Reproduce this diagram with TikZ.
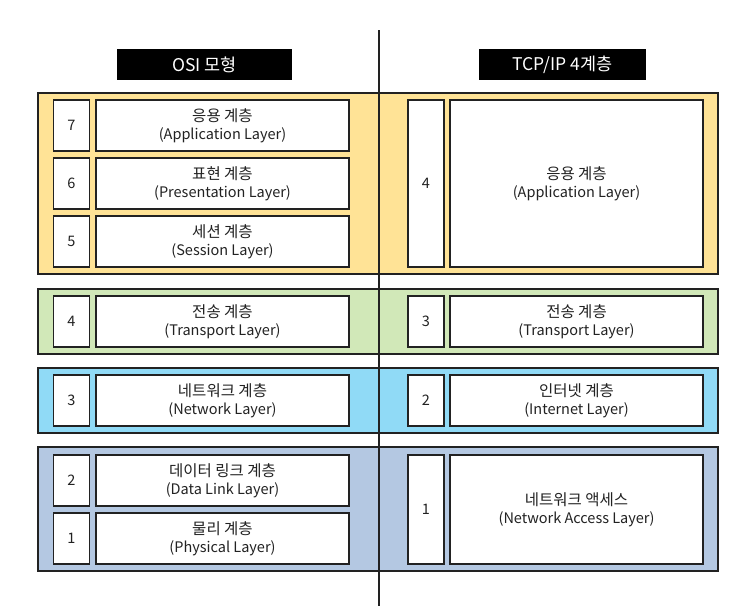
\documentclass[tikz,border=0pt]{standalone}
\usepackage{fontspec}
\setmainfont{Noto Sans CJK KR}
\definecolor{yel}{HTML}{FFE396}
\definecolor{grn}{HTML}{D1E8B8}
\definecolor{blu}{HTML}{90DAF6}
\definecolor{gbl}{HTML}{B4C8E2}
\definecolor{ink}{HTML}{222222}
\newcommand{\krl}[1]{{\fontsize{15.5}{18}\selectfont #1}}
\begin{document}
\begin{tikzpicture}[x=1pt,y=-1pt,
  band/.style={draw=ink, line width=1.5pt, inner sep=0pt, minimum width=680pt},
  cell/.style={draw=ink, line width=1.6pt, fill=white, text=ink, align=center,
    font=\fontsize{14.5}{18}\selectfont, inner sep=0pt},
  numcell/.style={cell, minimum width=36pt},
  lblcell/.style={cell, minimum width=253pt},
  hdr/.style={fill=black, text=white, font=\fontsize{17.5}{18}\selectfont, inner sep=0pt, minimum height=31pt}]
\useasboundingbox (0,0) rectangle (754,611);
% headers
\node[hdr, minimum width=175pt] (hosi) at (204.5,64.5) {OSI 모형};
\node[hdr, minimum width=167pt] (htcp) at (562.5,64.5) {TCP/IP 4계층};
% bands
\node[band, fill=yel, minimum height=181pt] (b1) at (378,183.5) {};
\node[band, fill=grn, minimum height=65pt] (b2) at (378,321.5) {};
\node[band, fill=blu, minimum height=65pt] (b3) at (378,400.5) {};
\node[band, fill=gbl, minimum height=124pt] (b4) at (378,509) {};
% divider
\coordinate (vtop) at (379,30);
\coordinate (vbot) at (379,606);
\draw[ink, line width=1.6pt] (vtop) -- (vbot);
% OSI
\node[numcell, minimum height=51pt] (n7) at (71.5,125.5) {7};
\node[lblcell, minimum height=51pt] (l7) at (222.5,125.5) {\krl{응용 계층}\\(Application Layer)};
\node[numcell, minimum height=51pt] (n6) at (71.5,183.5) {6};
\node[lblcell, minimum height=51pt] (l6) at (222.5,183.5) {\krl{표현 계층}\\(Presentation Layer)};
\node[numcell, minimum height=51pt] (n5) at (71.5,241.5) {5};
\node[lblcell, minimum height=51pt] (l5) at (222.5,241.5) {\krl{세션 계층}\\(Session Layer)};
\node[numcell, minimum height=51pt] (n4) at (71.5,321.5) {4};
\node[lblcell, minimum height=51pt] (l4) at (222.5,321.5) {\krl{전송 계층}\\(Transport Layer)};
\node[numcell, minimum height=51pt] (n3) at (71.5,400.5) {3};
\node[lblcell, minimum height=51pt] (l3) at (222.5,400.5) {\krl{네트워크 계층}\\(Network Layer)};
\node[numcell, minimum height=51pt] (n2) at (71.5,480.5) {2};
\node[lblcell, minimum height=51pt] (l2) at (222.5,480.5) {\krl{데이터 링크 계층}\\(Data Link Layer)};
\node[numcell, minimum height=51pt] (n1) at (71.5,538.5) {1};
\node[lblcell, minimum height=51pt] (l1) at (222.5,538.5) {\krl{물리 계층}\\(Physical Layer)};
% TCP/IP
\node[numcell, minimum height=167pt] (t4n) at (426,183.5) {4};
\node[lblcell, minimum height=167pt] (t4l) at (576.5,183.5) {\krl{응용 계층}\\(Application Layer)};
\node[numcell, minimum height=51pt] (t3n) at (426,321.5) {3};
\node[lblcell, minimum height=51pt] (t3l) at (576.5,321.5) {\krl{전송 계층}\\(Transport Layer)};
\node[numcell, minimum height=51pt] (t2n) at (426,400.5) {2};
\node[lblcell, minimum height=51pt] (t2l) at (576.5,400.5) {\krl{인터넷 계층}\\(Internet Layer)};
\node[numcell, minimum height=109pt] (t1n) at (426,509.5) {1};
\node[lblcell, minimum height=109pt] (t1l) at (576.5,509.5) {\krl{네트워크 액세스}\\(Network Access Layer)};
\end{tikzpicture}
\end{document}
